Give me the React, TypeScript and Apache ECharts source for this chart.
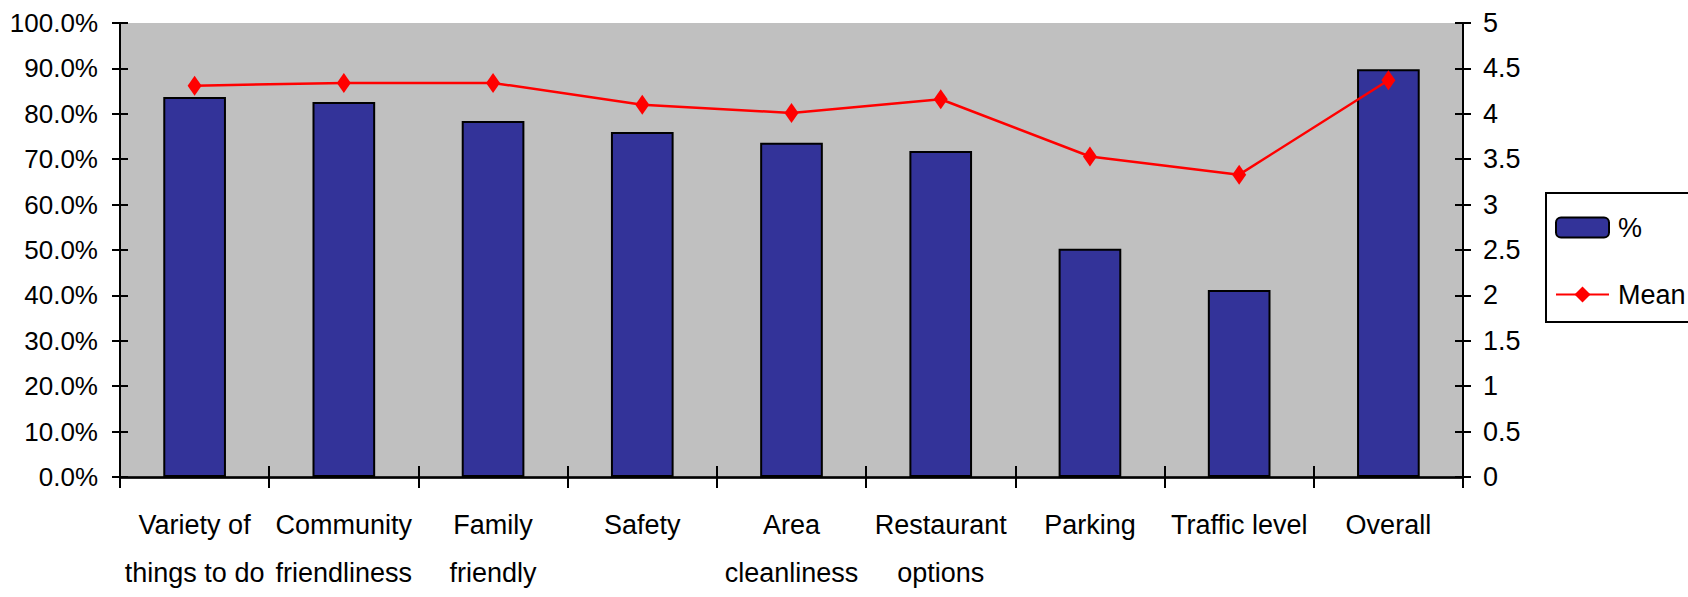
import React, { useEffect, useRef } from "react";
import * as echarts from "echarts";

const categories = [
  "Variety of\nthings to do",
  "Community\nfriendliness",
  "Family\nfriendly",
  "Safety",
  "Area\ncleanliness",
  "Restaurant\noptions",
  "Parking",
  "Traffic level",
  "Overall",
];
const percentValues = [83.7, 82.6, 78.4, 76.0, 73.6, 71.8, 50.3, 41.2, 89.8];
const meanValues = [4.31, 4.34, 4.34, 4.1, 4.01, 4.16, 3.53, 3.33, 4.37];
const leftTicks = { min: 0, max: 100, interval: 10 };
const rightTicks = { min: 0, max: 5, interval: 0.5 };

const FONT = '"Liberation Sans Narrow", "Arial Narrow", "Liberation Sans", Arial, sans-serif';

export default function App() {
  const ref = useRef<HTMLDivElement>(null);
  useEffect(() => {
    if (!ref.current) return;
    const chart = echarts.init(ref.current, null, { renderer: "svg" });
    const labelStyle = { color: "#000", fontFamily: FONT, fontSize: 27 };
    const option: any = {
      animation: false,
      backgroundColor: "#fff",
      textStyle: { fontFamily: FONT },
      grid: {
        left: 120,
        right: 225,
        top: 23,
        bottom: 115,
        show: true,
        backgroundColor: "#C0C0C0",
        borderWidth: 0,
      },
      legend: {
        orient: "vertical",
        left: 1546,
        top: 193,
        padding: [21, 8, 14, 9],
        itemWidth: 53,
        itemHeight: 20,
        itemGap: 40,
        backgroundColor: "#fff",
        borderColor: "#000",
        borderWidth: 2,
        textStyle: { ...labelStyle, padding: [0, 0, 0, 4] },
        data: ["%", "Mean"],
      },
      xAxis: [
        {
          type: "category",
          data: categories,
          position: "bottom",
          axisLine: { show: true, lineStyle: { color: "#000", width: 2.5 } },
          axisTick: { show: true, length: 11, lineStyle: { color: "#000", width: 2 } },
          axisLabel: { ...labelStyle, margin: 24, lineHeight: 48, interval: 0 },
          splitLine: { show: false },
          z: 5,
        },
        {
          type: "category",
          data: categories,
          position: "bottom",
          axisLine: { show: false },
          axisTick: { show: true, inside: true, length: 11, lineStyle: { color: "#000", width: 2 } },
          axisLabel: { show: false },
          splitLine: { show: false },
        },
        {
          type: "category",
          data: categories,
          position: "top",
          axisLine: { show: true, lineStyle: { color: "#808080", width: 2.5 } },
          axisTick: { show: false },
          axisLabel: { show: false },
          splitLine: { show: false },
        },
      ],
      yAxis: [
        {
          type: "value",
          position: "left",
          ...leftTicks,
          axisLine: { show: true, lineStyle: { color: "#000", width: 2 } },
          axisTick: { show: true, length: 8, lineStyle: { color: "#000", width: 2 } },
          axisLabel: {
            ...labelStyle,
            fontSize: 26,
            margin: 22,
            formatter: (v: number) => v.toFixed(1) + "%",
          },
          splitLine: { show: false },
        },
        {
          type: "value",
          position: "right",
          ...rightTicks,
          axisLine: { show: true, lineStyle: { color: "#000", width: 2 } },
          axisTick: { show: true, length: 8, lineStyle: { color: "#000", width: 2 } },
          axisLabel: { ...labelStyle, margin: 20 },
          splitLine: { show: false },
        },
        {
          type: "value",
          position: "left",
          ...leftTicks,
          axisLine: { show: false },
          axisTick: { show: true, inside: true, length: 8, lineStyle: { color: "#000", width: 2 } },
          axisLabel: { show: false },
          splitLine: { show: false },
        },
        {
          type: "value",
          position: "right",
          ...rightTicks,
          axisLine: { show: false },
          axisTick: { show: true, inside: true, length: 8, lineStyle: { color: "#000", width: 2 } },
          axisLabel: { show: false },
          splitLine: { show: false },
        },
      ],
      series: [
        {
          name: "%",
          type: "bar",
          xAxisIndex: 0,
          yAxisIndex: 0,
          data: percentValues,
          barWidth: "42%",
          itemStyle: { color: "#333399", borderColor: "#000", borderWidth: 2 },
        },
        {
          name: "Mean",
          type: "line",
          xAxisIndex: 0,
          yAxisIndex: 1,
          data: meanValues,
          symbol: "diamond",
          symbolSize: [14, 20],
          lineStyle: { color: "#FF0000", width: 2.5 },
          itemStyle: { color: "#FF0000" },
          z: 4,
        },
      ],
    };
    chart.setOption(option);
    return () => chart.dispose();
  }, []);
  return (
    <div
      ref={ref}
      style={{ position: "fixed", left: 0, top: 0, width: 1688, height: 597 }}
    />
  );
}
